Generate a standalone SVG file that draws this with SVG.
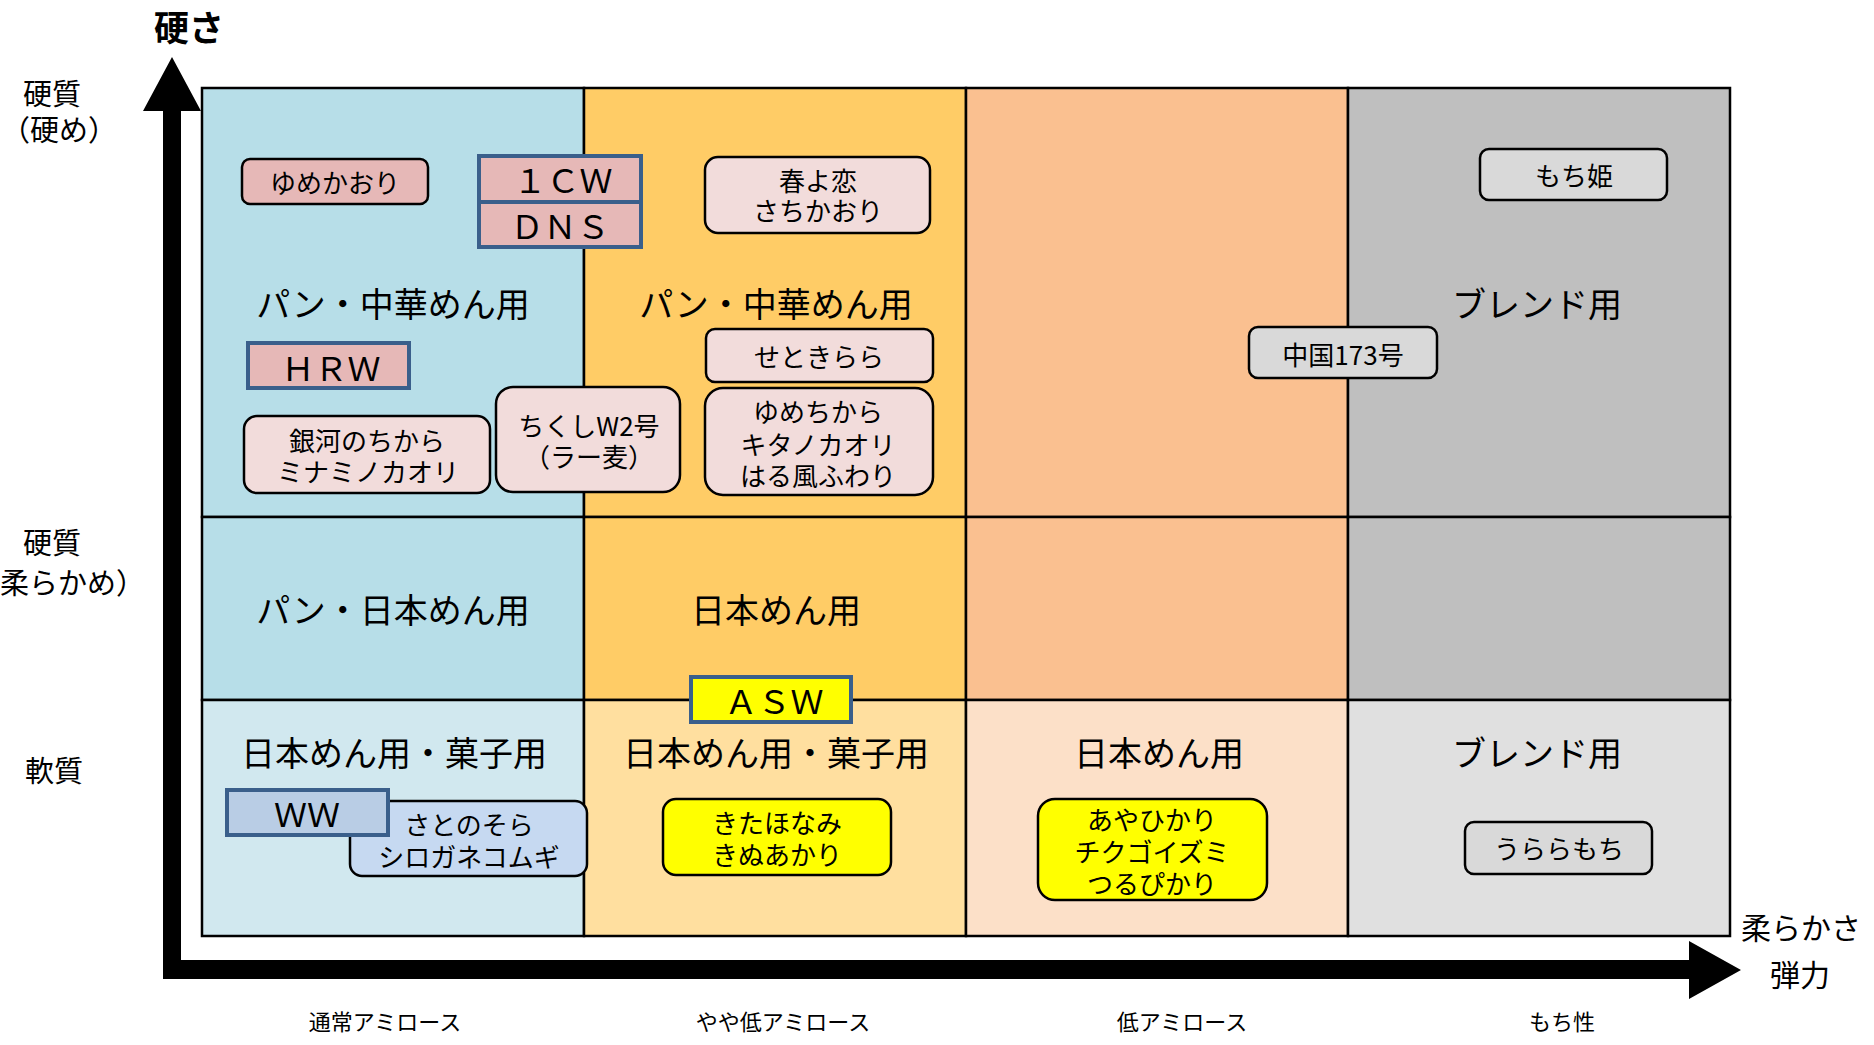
<svg xmlns="http://www.w3.org/2000/svg" width="1874" height="1045" viewBox="0 0 1874 1045">
<style>
text{font-family:"Noto Sans CJK JP","Noto Sans",sans-serif;fill:#000;dominant-baseline:central;text-anchor:middle}
.ax{font-size:29px}
.st{text-anchor:start}
.bt{font-size:22px}
.rg{font-size:34px}
.bx{font-size:26px}
.lt{font-size:33px}
.cell{stroke:#000;stroke-width:2.5}
.rb{stroke:#000;stroke-width:2.5}
.sq{stroke:#3A5F8B;stroke-width:4}
.pk{fill:#E6B8B7}
.lp{fill:#F2DCDB}
.gy{fill:#D9D9D9}
.yl{fill:#FFFF00}
</style>
<rect width="1874" height="1045" fill="#fff"/>
<g id="grid">
<rect class="cell" x="202" y="88" width="382" height="429" fill="#B7DEE8"/>
<rect class="cell" x="202" y="517" width="382" height="183" fill="#B7DEE8"/>
<rect class="cell" x="202" y="700" width="382" height="236" fill="#D1E8EF"/>
<rect class="cell" x="584" y="88" width="382" height="429" fill="#FFCC66"/>
<rect class="cell" x="584" y="517" width="382" height="183" fill="#FFCC66"/>
<rect class="cell" x="584" y="700" width="382" height="236" fill="#FFDF9F"/>
<rect class="cell" x="966" y="88" width="382" height="429" fill="#FAC090"/>
<rect class="cell" x="966" y="517" width="382" height="183" fill="#FAC090"/>
<rect class="cell" x="966" y="700" width="382" height="236" fill="#FCE0C8"/>
<rect class="cell" x="1348" y="88" width="382" height="429" fill="#BFBFBF"/>
<rect class="cell" x="1348" y="517" width="382" height="183" fill="#BFBFBF"/>
<rect class="cell" x="1348" y="700" width="382" height="236" fill="#E0E0E0"/>
</g>
<g id="connectors">
<path id="axes" d="M163,111 L143,111 L172,57 L201,111 L181,111 L181,960 L1689,960 L1689,941 L1741,970 L1689,999 L1689,979 L163,979 Z" fill="#000"/>
</g>
<g id="axis-labels">
<text x="189" y="25" style="font-size:35px;font-weight:bold">硬さ</text>
<text class="ax st"><tspan x="23" y="92">硬質</tspan><tspan x="1" y="128">（硬め）</tspan></text>
<text class="ax st"><tspan x="23" y="541">硬質</tspan><tspan x="0" y="581">柔らかめ）</tspan></text>
<text class="ax" x="54" y="769">軟質</text>
<text class="ax" style="font-size:30px"><tspan x="1801" y="926">柔らかさ</tspan><tspan x="1800" y="973">弾力</tspan></text>
<text class="bt" x="385" y="1020">通常アミロース</text>
<text class="bt" x="783" y="1020">やや低アミロース</text>
<text class="bt" x="1182" y="1020">低アミロース</text>
<text class="bt" x="1562" y="1020">もち性</text>
</g>
<g id="region-labels">
<text class="rg" x="393" y="302">パン・中華めん用</text>
<text class="rg" x="776" y="302">パン・中華めん用</text>
<text class="rg" x="1537" y="302">ブレンド用</text>
<text class="rg" x="393" y="608">パン・日本めん用</text>
<text class="rg" x="776" y="608">日本めん用</text>
<text class="rg" x="394" y="751">日本めん用・菓子用</text>
<text class="rg" x="776" y="751">日本めん用・菓子用</text>
<text class="rg" x="1159" y="751">日本めん用</text>
<text class="rg" x="1537" y="751">ブレンド用</text>
</g>
<g id="yumekaori">
<rect class="rb pk" x="242" y="159" width="186" height="45" rx="8"/>
<text class="bx" x="335" y="181">ゆめかおり</text>
</g>
<g id="cw1-dns">
<rect class="sq pk" x="479" y="156" width="162" height="46"/>
<rect class="sq pk" x="479" y="202" width="162" height="45"/>
<text class="lt" x="563" y="179">１ＣＷ</text>
<text class="lt" x="560" y="225">ＤＮＳ</text>
</g>
<g id="harukoi">
<rect class="rb lp" x="705" y="157" width="225" height="76" rx="13"/>
<text class="bx"><tspan x="818" y="179">春よ恋</tspan><tspan x="818" y="209">さちかおり</tspan></text>
</g>
<g id="hrw">
<rect class="sq pk" x="248" y="343" width="161" height="45"/>
<text class="lt" x="331" y="367">ＨＲＷ</text>
</g>
<g id="setokirara">
<rect class="rb lp" x="706" y="329" width="227" height="53" rx="9"/>
<text class="bx" x="819" y="355">せときらら</text>
</g>
<g id="yumechikara">
<rect class="rb lp" x="705" y="388" width="228" height="107" rx="18"/>
<text class="bx"><tspan x="818" y="410">ゆめちから</tspan><tspan x="818" y="443">キタノカオリ</tspan><tspan x="818" y="474">はる風ふわり</tspan></text>
</g>
<g id="chikushi">
<rect class="rb lp" x="496" y="387" width="184" height="105" rx="17"/>
<text class="bx"><tspan x="589" y="424">ちくしW2号</tspan><tspan x="589" y="455">（ラー麦）</tspan></text>
</g>
<g id="ginga">
<rect class="rb lp" x="244" y="416" width="246" height="77" rx="13"/>
<text class="bx"><tspan x="367" y="439">銀河のちから</tspan><tspan x="368" y="470">ミナミノカオリ</tspan></text>
</g>
<g id="mochihime">
<rect class="rb gy" x="1480" y="149" width="187" height="51" rx="9"/>
<text class="bx" x="1574" y="174">もち姫</text>
</g>
<g id="chugoku173">
<rect class="rb gy" x="1249" y="327" width="188" height="51" rx="9"/>
<text class="bx" x="1343" y="353">中国173号</text>
</g>
<g id="asw">
<rect class="sq yl" x="691" y="677" width="160" height="45"/>
<text class="lt" x="774" y="700">ＡＳＷ</text>
</g>
<g id="satonosora">
<rect class="rb" x="350" y="801" width="237" height="75" rx="12" fill="#C6D9F1"/>
<text class="bx"><tspan x="469" y="823">さとのそら</tspan><tspan x="469" y="855">シロガネコムギ</tspan></text>
</g>
<g id="ww">
<rect class="sq" x="227" y="790" width="161" height="45" fill="#B9CDE5"/>
<text class="lt" x="307" y="813">ＷＷ</text>
</g>
<g id="kitahonami">
<rect class="rb yl" x="663" y="799" width="228" height="76" rx="13"/>
<text class="bx"><tspan x="777" y="821">きたほなみ</tspan><tspan x="777" y="853">きぬあかり</tspan></text>
</g>
<g id="ayahikari">
<rect class="rb yl" x="1038" y="799" width="229" height="101" rx="17"/>
<text class="bx"><tspan x="1152" y="818">あやひかり</tspan><tspan x="1152" y="850">チクゴイズミ</tspan><tspan x="1152" y="882">つるぴかり</tspan></text>
</g>
<g id="uraramochi">
<rect class="rb gy" x="1465" y="822" width="187" height="52" rx="9"/>
<text class="bx" x="1559" y="847">うららもち</text>
</g>
</svg>
